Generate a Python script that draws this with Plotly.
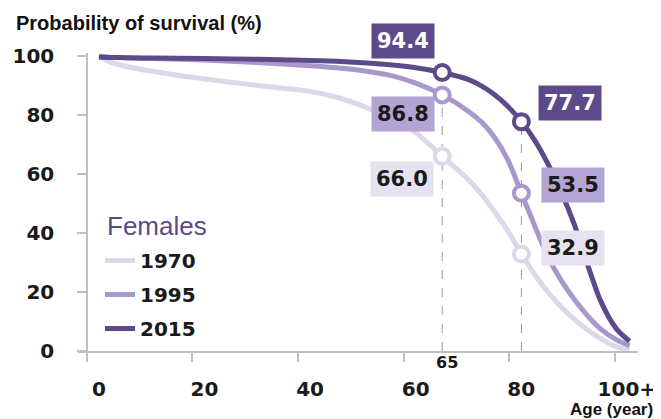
import plotly.graph_objects as go

# ---------------- data ----------------
ages = [0, 2, 5, 10, 20, 30, 40, 45, 50, 55, 60, 65, 70, 72.5, 75, 77.5, 80,
        82.5, 85, 87.5, 90, 92.5, 95, 98, 100.5]
surv_1970 = [100, 98.0, 96.5, 94.8, 92.2, 90.0, 88.0, 86.0, 83.0, 79.0, 74.0, 66.0, 58.0, 53.0, 47.0, 40.5, 32.9,
             26.0, 20.0, 15.0, 10.8, 7.2, 4.2, 1.4, 0.3]
surv_1995 = [100, 99.6, 99.4, 99.1, 98.6, 97.8, 96.7, 96.0, 95.0, 93.5, 90.8, 86.8, 81.2, 77.5, 72.2, 64.5, 53.5,
             42.5, 32.0, 24.0, 17.5, 12.0, 7.5, 3.8, 1.8]
surv_2015 = [99.6, 99.5, 99.4, 99.3, 99.1, 98.9, 98.5, 98.2, 97.7, 97.0, 96.0, 94.4, 92.0, 89.8, 86.8, 82.8, 77.7,
             71.5, 63.5, 54.0, 43.0, 29.5, 17.0, 7.5, 3.3]

marker_ages = [65, 80]
mark_1970 = [66.0, 32.9]
mark_1995 = [86.8, 53.5]
mark_2015 = [94.4, 77.7]

series_names = ["1970", "1995", "2015"]
x_tick_values = [0, 20, 40, 60, 80, 100]
x_tick_labels = ["0", "20", "40", "60", "80", "100+"]
y_tick_values = [0, 20, 40, 60, 80, 100]

# ---------------- styles ----------------
colors = {"1970": "#ddd7ea", "1995": "#a898cc", "2015": "#5d4a8b"}
box_colors = {"1970": "#e6e2ef", "1995": "#b2a5d3", "2015": "#5d4a8b"}
text_colors = {"1970": "#1a1a1a", "1995": "#1a1a1a", "2015": "#ffffff"}
BOLD = dict(family="DejaVu Sans", weight="bold")
TICK_OFFSET = -2.3  # tick marks sit left of their labels

OFF = 8  # page body margin
W, H = 661 - OFF, 419 - OFF
ML, MR, MT, MB = 78 - OFF, 23, 53 - OFF, 68
pw, ph = W - ML - MR, H - MT - MB


def px_x(px):
    return (px - OFF - ML) / pw


def px_y(py):
    return (H - MB - (py - OFF)) / ph


fig = go.Figure()
curves = {"1970": surv_1970, "1995": surv_1995, "2015": surv_2015}
marks = {"1970": mark_1970, "1995": mark_1995, "2015": mark_2015}

for name in series_names:
    fig.add_trace(go.Scatter(
        x=ages, y=curves[name], mode="lines", name=name,
        line=dict(color=colors[name], width=5, shape="spline", smoothing=0.8),
        legendgroup=name, hoverinfo="skip",
    ))

for name in series_names:
    fig.add_trace(go.Scatter(
        x=marker_ages, y=marks[name], mode="markers", showlegend=False,
        marker=dict(symbol="circle", size=15, color="white",
                    line=dict(color=colors[name], width=4)),
        hoverinfo="skip",
    ))

# dashed guide lines
fig.add_shape(type="line", x0=marker_ages[0], x1=marker_ages[0], y0=0, y1=mark_1995[0],
              line=dict(color="#9a9a9a", width=1, dash="dash"), layer="below")
fig.add_shape(type="line", x0=marker_ages[1], x1=marker_ages[1], y0=0, y1=mark_2015[1],
              line=dict(color="#9a9a9a", width=1, dash="dash"), layer="below")

# value labels (page-pixel centres of the boxes)
label_px_65 = {"2015": (403, 41), "1995": (403, 114), "1970": (402, 179)}
label_px_80 = {"2015": (570, 103), "1995": (573, 185), "1970": (573, 248)}
for name in series_names:
    for j, (cx, cy) in enumerate([label_px_65[name], label_px_80[name]]):
        fig.add_annotation(
            x=px_x(cx), y=px_y(cy), xref="paper", yref="paper", text=f"{marks[name][j]:.1f}",
            xanchor="center", yanchor="middle",
            showarrow=False, bgcolor=box_colors[name], borderpad=5,
            font=dict(size=21, color=text_colors[name], **BOLD),
        )

fig.add_annotation(x=px_x(447), y=px_y(362), xref="paper", yref="paper", text=str(marker_ages[0]),
                   xanchor="center", yanchor="middle",
                   showarrow=False, font=dict(size=16, color="#1a1a1a", **BOLD))
fig.add_annotation(x=px_x(14), y=px_y(23), xref="paper", yref="paper",
                   text="Probability of survival (%)", showarrow=False,
                   xanchor="left", yanchor="middle",
                   font=dict(family="Liberation Sans", size=20, weight="bold", color="#111111"))
fig.add_annotation(x=px_x(655), y=px_y(409), xref="paper", yref="paper", text="Age (year)",
                   showarrow=False, xanchor="right", yanchor="middle",
                   font=dict(family="Liberation Sans", size=17, weight="bold", color="#111111"))
fig.add_annotation(x=px_x(105), y=px_y(226), xref="paper", yref="paper", text="Females",
                   showarrow=False, xanchor="left", yanchor="middle",
                   font=dict(family="Liberation Sans", size=26, color="#5b4a8b"))

x_lo = (78 - 99) / 5.28
x_hi = x_lo + pw / 5.28

fig.update_layout(
    width=W, height=H,
    margin=dict(l=ML, r=MR, t=MT, b=MB, autoexpand=False),
    paper_bgcolor="white", plot_bgcolor="white",
    showlegend=True,
    legend=dict(
        x=px_x(100), y=px_y(241), xanchor="left", yanchor="top",
        font=dict(size=20, color="#1a1a1a", **BOLD),
        tracegroupgap=5, itemwidth=30, bgcolor="rgba(0,0,0,0)",
    ),
    xaxis=dict(
        range=[x_lo, x_hi], showgrid=False, zeroline=False, automargin=False,
        showline=True, linecolor="#bfbfbf", linewidth=1.5,
        tickvals=[v + TICK_OFFSET for v in x_tick_values], ticktext=x_tick_labels,
        ticks="outside", ticklen=9, tickcolor="#bfbfbf", tickwidth=1.5,
        ticklabelshift=12, ticklabelstandoff=10,
        tickfont=dict(size=20, color="#1a1a1a", **BOLD),
    ),
    yaxis=dict(
        range=[0, 101], showgrid=False, zeroline=False, automargin=False,
        anchor="free", position=px_x(87),
        showline=True, linecolor="#bfbfbf", linewidth=1.5,
        tickvals=y_tick_values, ticks="outside", ticklen=9,
        tickcolor="#bfbfbf", tickwidth=1.5, ticklabelstandoff=19,
        tickfont=dict(size=20, color="#1a1a1a", **BOLD),
    ),
)

fig.write_html("out.html")
